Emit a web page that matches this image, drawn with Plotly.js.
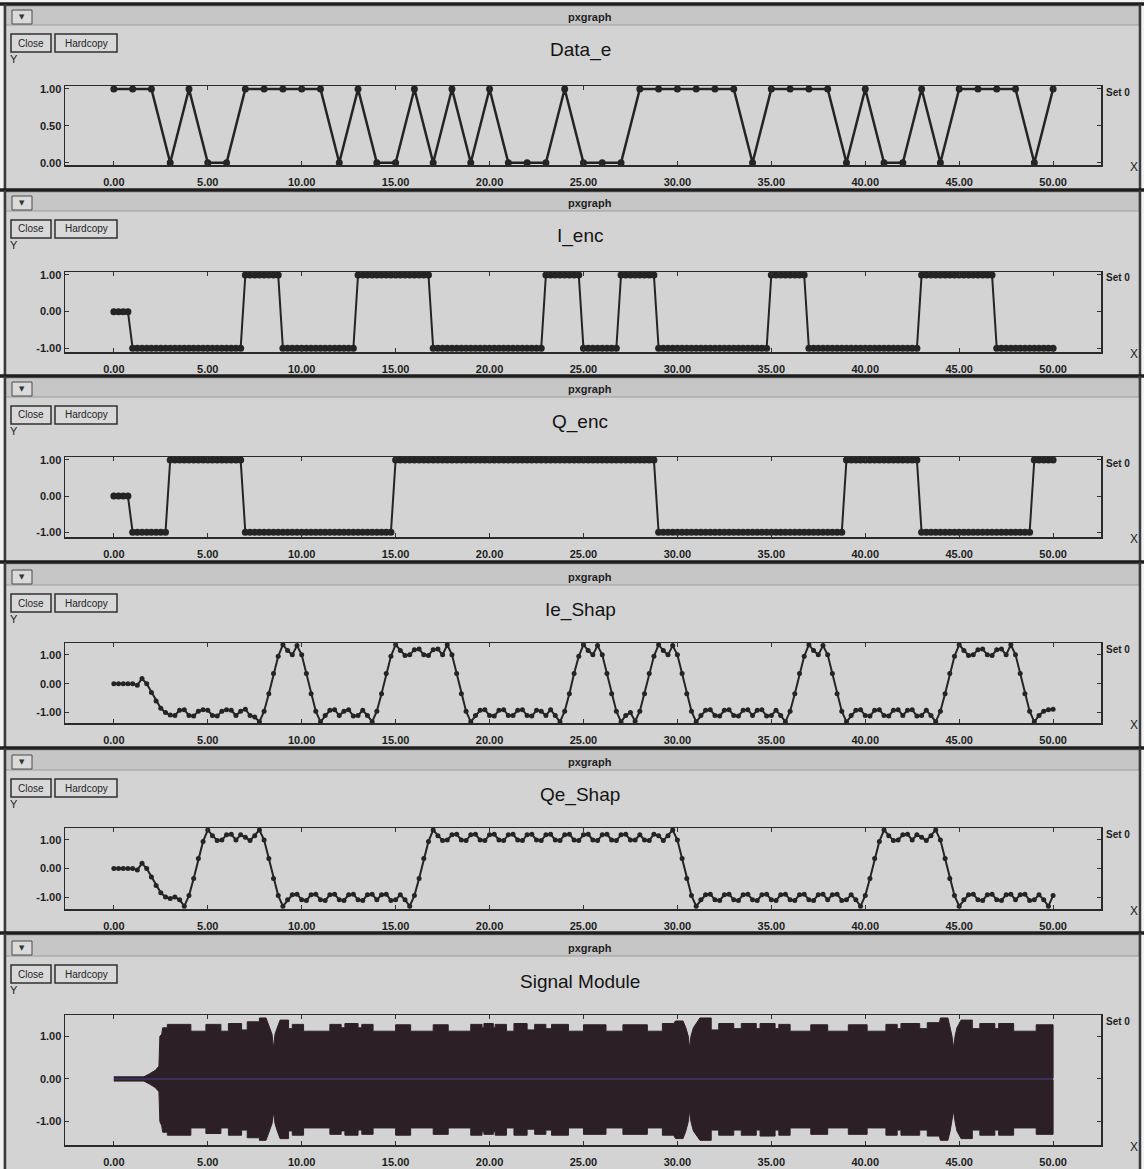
<!DOCTYPE html>
<html><head><meta charset="utf-8">
<script src="https://cdn.plot.ly/plotly-3.0.1.min.js"></script>
<style>html,body{margin:0;padding:0;background:#f2f2f2;}#chart{width:1144px;height:1169px;}</style>
</head><body><div id="chart"></div>
<script>
// ---------------- DATA ----------------
const xTickVals = [0, 5, 10, 15, 20, 25, 30, 35, 40, 45, 50];
const xTickText = ["0.00","5.00","10.00","15.00","20.00","25.00","30.00","35.00","40.00","45.00","50.00"];
const yTickValsData = [0, 0.5, 1];
const yTickTextData = ["0.00","0.50","1.00"];
const yTickValsPM = [-1, 0, 1];
const yTickTextPM = ["-1.00","0.00","1.00"];

// Data_e : one value per unit time, t = 0..50
const dataE = [1,1,1,0,1,0,0,1,1,1, 1,1,0,1,0,0,1,0,1,0, 1,0,0,0,1,0,0,0,1,1, 1,1,1,1,0,1,1,1,1,0, 1,0,0,1,0,1,1,1,1,0, 1];

// I_enc / Q_enc : held symbol value for each unit interval [k, k+1), k = 0..50
const iEncSymbols = [0,-1,-1,-1,-1,-1,-1,1,1,-1, -1,-1,-1,1,1,1,1,-1,-1,-1, -1,-1,-1,1,1,-1,-1,1,1,-1, -1,-1,-1,-1,-1,1,1,-1,-1,-1, -1,-1,-1,1,1,1,1,-1,-1,-1, -1];
const qEncSymbols = [0,-1,-1,1,1,1,1,-1,-1,-1, -1,-1,-1,-1,-1,1,1,1,1,1, 1,1,1,1,1,1,1,1,1,-1, -1,-1,-1,-1,-1,-1,-1,-1,-1,1, 1,1,1,-1,-1,-1,-1,-1,-1,1, 1];

// Ie_Shap / Qe_Shap : samples every 0.25 time unit, t = 0..50
const ieShap = [
 0,0,0,0,  0,-0.05,0.18,0.0,  -0.3,-0.6,-0.85,-1.0,  -1.08,-1.1,-0.92,-0.9,  -1.1,-1.12,-0.95,-0.9,
 -0.92,-1.1,-1.12,-0.95,  -0.9,-0.92,-1.1,-0.95,  -0.88,-1.1,-1.15,-1.32,  -0.95,-0.35,0.35,0.95,  1.35,1.15,1.0,1.32,
 1.0,0.35,-0.35,-0.95,  -1.32,-1.1,-0.92,-0.9,  -1.1,-0.95,-0.9,-1.12,  -1.1,-0.92,-1.1,-1.32,  -0.95,-0.35,0.35,0.95,
 1.35,1.15,0.98,1.0,  1.18,1.2,1.0,0.98,  1.18,1.2,1.0,1.35,  1.0,0.35,-0.35,-0.95,  -1.32,-1.1,-0.92,-0.9,
 -1.1,-1.12,-0.92,-0.9,  -1.1,-1.1,-0.92,-0.9,  -1.1,-1.12,-0.92,-0.95,  -1.1,-0.9,-1.1,-1.32,  -0.95,-0.35,0.35,0.95,
 1.35,1.15,1.0,1.32,  1.0,0.35,-0.35,-0.95,  -1.32,-1.1,-1.0,-1.3,  -0.95,-0.35,0.35,0.95,  1.35,1.15,1.0,1.32,
 1.0,0.35,-0.35,-0.95,  -1.32,-1.1,-0.92,-0.9,  -1.1,-1.12,-0.92,-0.9,  -1.1,-1.12,-0.92,-0.9,  -1.1,-0.92,-0.9,-1.12,
 -1.1,-0.92,-1.1,-1.32,  -0.95,-0.35,0.35,0.95,  1.35,1.15,1.0,1.32,  1.0,0.35,-0.35,-0.95,  -1.32,-1.1,-0.92,-0.9,
 -1.1,-1.12,-0.92,-0.9,  -1.1,-1.12,-0.92,-0.9,  -1.1,-0.92,-0.9,-1.12,  -1.1,-0.92,-1.1,-1.32,  -0.95,-0.35,0.35,0.95,
 1.35,1.15,0.98,1.0,  1.18,1.2,1.0,0.98,  1.18,1.2,1.0,1.35,  1.0,0.35,-0.35,-0.95,  -1.32,-1.1,-0.95,-0.9,
 -0.88
];
const qeShap = [
 0,0,0,0,  0,-0.05,0.18,0.0,  -0.3,-0.6,-0.85,-1.0,  -1.05,-1.0,-1.1,-1.32,  -0.95,-0.35,0.35,0.95,
 1.35,1.15,0.98,1.0,  1.18,1.2,1.0,1.18,  1.1,0.98,1.15,1.35,  1.0,0.35,-0.35,-0.95,  -1.32,-1.1,-0.92,-0.9,
 -1.1,-1.12,-0.92,-0.9,  -1.1,-1.12,-0.92,-0.9,  -1.1,-1.12,-0.92,-0.9,  -1.1,-1.12,-0.92,-0.9,  -1.1,-0.92,-0.9,-1.12,
 -1.1,-0.92,-1.1,-1.32,  -0.95,-0.35,0.35,0.95,  1.35,1.15,0.98,1.0,  1.18,1.2,1.0,0.98,  1.18,1.2,1.0,0.98,
 1.18,1.2,1.0,0.98,  1.18,1.2,1.0,0.98,  1.18,1.2,1.0,0.98,  1.18,1.2,1.0,0.98,  1.18,1.2,1.0,0.98,
 1.18,1.2,1.0,0.98,  1.18,1.2,1.0,0.98,  1.18,1.2,1.0,1.0,  1.18,1.0,0.98,1.2,  1.15,0.98,1.15,1.35,
 1.0,0.35,-0.35,-0.95,  -1.32,-1.1,-0.92,-0.9,  -1.1,-1.12,-0.92,-0.9,  -1.1,-1.12,-0.92,-0.9,  -1.1,-1.12,-0.92,-0.9,
 -1.1,-1.12,-0.92,-0.9,  -1.1,-1.12,-0.92,-0.9,  -1.1,-1.12,-0.92,-0.9,  -1.1,-0.92,-0.9,-1.12,  -1.1,-0.92,-1.1,-1.32,
 -0.95,-0.35,0.35,0.95,  1.35,1.15,0.98,1.0,  1.18,1.2,1.0,1.18,  1.1,0.98,1.15,1.35,  1.0,0.35,-0.35,-0.95,
 -1.32,-1.1,-0.92,-0.9,  -1.1,-1.12,-0.92,-0.9,  -1.1,-1.12,-0.92,-0.9,  -1.1,-0.92,-0.9,-1.12,  -1.1,-0.92,-1.1,-1.32,
 -0.95
];

// Signal Module : envelope of the modulated carrier (breakpoints)
const sigX = [0,1.6,1.9,2.2,2.4,2.45,2.55,2.6,2.85,2.85,4.1,4.1,4.9,4.9,5.7,5.7,6.1,6.1,6.8,6.8,7.1,7.1,7.75,7.75,8.1,8.3,8.42,8.5,8.58,8.7,8.85,9.3,9.3,9.5,9.5,10.1,10.1,11.5,11.5,12.1,12.1,12.3,12.3,13.0,13.0,13.2,13.2,13.8,13.8,15.0,15.0,15.8,15.8,17.0,17.0,17.8,17.8,19.0,19.0,19.6,19.6,19.7,19.7,20.2,20.2,20.3,20.3,20.9,20.9,21.3,21.3,22.0,22.0,22.4,22.4,23.0,23.0,23.3,23.3,24.2,24.2,25.0,25.0,26.2,26.2,27.1,27.1,28.4,28.4,29.2,29.2,29.8,29.9,30.3,30.45,30.58,30.65,30.72,30.85,31.2,31.8,31.8,32.2,32.2,33.0,33.0,33.4,33.4,34.2,34.2,34.4,34.4,35.2,35.2,35.4,35.4,36.0,36.0,37.1,37.1,38.0,38.0,39.1,39.1,40.1,40.1,41.1,41.1,41.7,41.7,41.9,41.9,42.9,42.9,43.3,43.3,43.95,44.0,44.4,44.52,44.62,44.7,44.78,44.88,45.1,45.7,45.7,46.1,46.1,46.9,46.9,47.1,47.1,47.9,47.9,49.1,49.1,50.0,50.0];
const sigUpper = [0.05,0.05,0.12,0.2,0.3,1.0,1.05,1.2,1.2,1.28,1.28,1.12,1.12,1.28,1.28,1.12,1.12,1.3,1.3,1.15,1.15,1.34,1.34,1.43,1.43,1.2,1.05,0.72,1.05,1.2,1.38,1.38,1.18,1.18,1.28,1.28,1.12,1.12,1.28,1.28,1.2,1.2,1.3,1.3,1.2,1.2,1.28,1.28,1.12,1.12,1.27,1.27,1.12,1.12,1.27,1.27,1.12,1.12,1.28,1.28,1.2,1.2,1.3,1.3,1.2,1.2,1.28,1.28,1.12,1.12,1.3,1.3,1.15,1.15,1.28,1.28,1.18,1.18,1.28,1.28,1.12,1.12,1.27,1.27,1.12,1.12,1.27,1.27,1.12,1.12,1.3,1.3,1.36,1.36,1.2,1.0,0.72,1.0,1.2,1.43,1.43,1.15,1.15,1.3,1.3,1.18,1.18,1.3,1.3,1.18,1.18,1.3,1.3,1.18,1.18,1.28,1.28,1.12,1.12,1.27,1.27,1.12,1.12,1.27,1.27,1.12,1.12,1.28,1.28,1.18,1.18,1.3,1.3,1.18,1.18,1.32,1.32,1.43,1.43,1.2,1.0,0.72,1.0,1.2,1.38,1.38,1.18,1.18,1.3,1.3,1.18,1.18,1.3,1.3,1.12,1.12,1.27,1.27,0.02];
const sigLower = [-0.05,-0.05,-0.12,-0.2,-0.3,-1.0,-1.1,-1.25,-1.25,-1.32,-1.32,-1.15,-1.15,-1.28,-1.28,-1.15,-1.15,-1.32,-1.32,-1.2,-1.2,-1.38,-1.38,-1.44,-1.44,-1.22,-1.05,-0.78,-1.05,-1.22,-1.4,-1.4,-1.22,-1.22,-1.32,-1.32,-1.15,-1.15,-1.3,-1.3,-1.22,-1.22,-1.32,-1.32,-1.2,-1.2,-1.3,-1.3,-1.15,-1.15,-1.32,-1.32,-1.15,-1.15,-1.3,-1.3,-1.15,-1.15,-1.32,-1.32,-1.24,-1.24,-1.3,-1.3,-1.24,-1.24,-1.32,-1.32,-1.15,-1.15,-1.32,-1.32,-1.18,-1.18,-1.3,-1.3,-1.2,-1.2,-1.32,-1.32,-1.15,-1.15,-1.3,-1.3,-1.15,-1.15,-1.3,-1.3,-1.15,-1.15,-1.32,-1.32,-1.4,-1.4,-1.22,-1.0,-0.75,-1.0,-1.22,-1.44,-1.44,-1.2,-1.2,-1.32,-1.32,-1.2,-1.2,-1.32,-1.32,-1.2,-1.2,-1.34,-1.34,-1.2,-1.2,-1.32,-1.32,-1.15,-1.15,-1.3,-1.3,-1.15,-1.15,-1.3,-1.3,-1.15,-1.15,-1.32,-1.32,-1.2,-1.2,-1.32,-1.32,-1.2,-1.2,-1.34,-1.34,-1.44,-1.44,-1.22,-1.0,-0.75,-1.0,-1.22,-1.4,-1.4,-1.2,-1.2,-1.32,-1.32,-1.2,-1.2,-1.32,-1.32,-1.15,-1.15,-1.3,-1.3,-0.02];

// ---------------- LAYOUT / RENDER ----------------
const W = 1144, H = 1169;
const px = x => x / W, py = y => 1 - y / H;
const FONT = 'Liberation Sans, Arial, sans-serif';
const INK = '#242424';

const titles = ['Data_e', 'I_enc', 'Q_enc', 'Ie_Shap', 'Qe_Shap', 'Signal Module'];
const winTop = [4, 190, 376, 562, 748, 933];
const barC = [17, 203, 389, 577, 762, 948];
const boxY = [[86,165],[272,352],[457,537],[643,723],[828,909],[1015,1145]];
const yRanges = [[-0.03,1.04],[-1.1,1.08],[-1.13,1.08],[-1.36,1.41],[-1.42,1.42],[-1.55,1.5]];
const xRange = [-2.6, 52.55];
const boxX = [65, 1101];

function expandHeld(sym, perUnit) {
  const out = [];
  const n = (sym.length - 1) * perUnit + 1;
  for (let i = 0; i < n; i++) out.push(sym[Math.floor(i / perUnit)]);
  return out;
}

const layout = {
  width: W, height: H, margin: {l:0, r:0, t:0, b:0},
  paper_bgcolor: '#f2f2f2', plot_bgcolor: 'rgba(0,0,0,0)',
  showlegend: false, hovermode: false,
  font: {family: FONT, color: INK},
  shapes: [], annotations: []
};

for (let i = 0; i < 6; i++) {
  const k = i === 0 ? '' : String(i + 1);
  layout['xaxis' + k] = {
    domain: [px(boxX[0]), px(boxX[1])], range: xRange, anchor: 'y' + k,
    tickvals: xTickVals, ticktext: xTickText,
    ticks: 'inside', ticklen: 4, tickwidth: 1, tickcolor: '#333',
    showline: true, linecolor: '#2a2a2a', linewidth: 1.5, mirror: 'ticks',
    showgrid: false, zeroline: false, fixedrange: true,
    tickfont: {family: FONT, size: 11, color: '#1e1e1e', weight: 'bold'},
    ticklabelstandoff: 6
  };
  layout['yaxis' + k] = {
    domain: [py(boxY[i][1]), py(boxY[i][0])], range: yRanges[i], anchor: 'x' + k,
    tickvals: i === 0 ? yTickValsData : yTickValsPM,
    ticktext: i === 0 ? yTickTextData : yTickTextPM,
    ticks: 'inside', ticklen: 4, tickwidth: 1, tickcolor: '#333',
    showline: true, linecolor: '#2a2a2a', linewidth: 1.5, mirror: 'ticks',
    showgrid: false, zeroline: false, fixedrange: true,
    tickfont: {family: FONT, size: 11, color: '#1e1e1e', weight: 'bold'}
  };

  const top = winTop[i], bot = i < 5 ? winTop[i + 1] : H, b = barC[i];
  const S = layout.shapes, A = layout.annotations;
  const rect = (x0, y0, x1, y1, fill, lc, lw) => S.push({type:'rect', xref:'paper', yref:'paper', layer:'below',
      x0: px(x0), x1: px(x1), y0: py(y1), y1: py(y0), fillcolor: fill, line: {color: lc || 'rgba(0,0,0,0)', width: lw || 0}});
  const line = (x0, y0, x1, y1, c, w) => S.push({type:'line', xref:'paper', yref:'paper', layer:'below',
      x0: px(x0), x1: px(x1), y0: py(y0), y1: py(y1), line: {color: c, width: w}});
  const text = (x, y, t, size, opts) => A.push(Object.assign({xref:'paper', yref:'paper', x: px(x), y: py(y), text: t,
      showarrow: false, xanchor: 'center', yanchor: 'middle', font: {family: FONT, size: size, color: INK}}, opts || {}));

  rect(3, top, 1141, bot, '#d3d3d3');
  rect(5, top + 2, 1139, b + 8, '#c6c6c6', '#9c9c9c', 1);
  line(0, top, W, top, '#1e1e1e', 3.5);
  line(5, top, 5, bot, '#3a3a3a', 2.5);
  line(1140, top, 1140, bot, '#3a3a3a', 2.5);
  rect(12, b - 7, 32, b + 7, '#dadada', '#4a4a4a', 1);
  rect(11, b + 17, 51, b + 35, '#d9d9d9', '#303030', 1.5);
  rect(55, b + 17, 117, b + 35, '#d9d9d9', '#303030', 1.5);

  text(22, b, '▼', 7, {font: {family: 'DejaVu Sans', size: 7, color: '#333'}});
  text(590, b, 'pxgraph', 11, {font: {family: FONT, size: 11, color: '#1e1e1e', weight: 'bold'}});
  text(31, b + 26, 'Close', 10);
  text(86, b + 26, 'Hardcopy', 10);
  text(14, b + 42, 'Y', 11);
  text(580, b + 33, titles[i], 19, {font: {family: FONT, size: 19, color: '#141414'}});
  text(1104, boxY[i][0] + 6, 'Set 0', 10, {xanchor: 'left', font: {family: FONT, size: 10, color: '#1e1e1e', weight: 'bold'}});
  text(1134, boxY[i][1] + 2, 'X', 12);
}

const lm = (xa, ya, y, dx, msize, lw) => ({type:'scatter', mode:'lines+markers', x0: 0, dx: dx, y: y,
  xaxis: xa, yaxis: ya, line: {color: INK, width: lw}, marker: {color: INK, size: msize}, cliponaxis: false});

const traces = [
  lm('x', 'y', dataE, 1, 7, 2.5),
  lm('x2', 'y2', expandHeld(iEncSymbols, 4), 0.25, 7, 2),
  lm('x3', 'y3', expandHeld(qEncSymbols, 4), 0.25, 7, 2),
  lm('x4', 'y4', ieShap, 0.25, 5, 2),
  lm('x5', 'y5', qeShap, 0.25, 5, 2),
  {type:'scatter', mode:'lines', x: sigX, y: sigUpper, xaxis:'x6', yaxis:'y6', line:{color:'#2c2026', width:1}},
  {type:'scatter', mode:'lines', x: sigX, y: sigLower, xaxis:'x6', yaxis:'y6', line:{color:'#2c2026', width:1},
   fill:'tonexty', fillcolor:'#2c2026'},
  {type:'scatter', mode:'lines', x: [sigX[0], sigX[sigX.length - 1]], y: [0, 0], xaxis:'x6', yaxis:'y6',
   line:{color:'#3d2f5c', width:2}}
];

Plotly.newPlot('chart', traces, layout, {staticPlot: true, displayModeBar: false});
</script></body></html>
